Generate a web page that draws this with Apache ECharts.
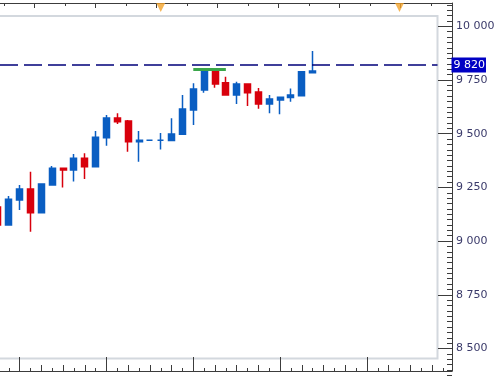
<!DOCTYPE html>
<html>
<head>
<meta charset="utf-8">
<script src="https://cdn.jsdelivr.net/npm/echarts@6/dist/echarts.min.js"></script>
<style>
html, body { margin: 0; padding: 0; background: #fff; }
#chart { width: 500px; height: 377px; }
</style>
</head>
<body>
<div id="chart"></div>
<script>
// 41 time slots across the plot, candles fill the first 30
var periods = [];
for (var i = 0; i < 41; i++) periods.push('P' + i);

var opens  = [9159, 9075, 9191, 9243, 9132, 9261, 9339, 9331, 9386, 9346,
              9481, 9573, 9559, 9463, 9469, 9469, 9468, 9497, 9610, 9703,
              9789, 9737, 9680, 9731, 9694, 9638, 9657, 9668, 9677, 9784];
var closes = [9075, 9195, 9243, 9132, 9266, 9339, 9331, 9386, 9346, 9483,
              9573, 9556, 9463, 9469, 9469, 9469, 9499, 9615, 9708, 9789,
              9731, 9680, 9731, 9691, 9638, 9662, 9670, 9680, 9789, 9792];
var lows   = [9065, 9075, 9145, 9044, 9132, 9261, 9249, 9277, 9289, 9346,
              9444, 9545, 9416, 9370, 9469, 9427, 9468, 9497, 9541, 9691,
              9714, 9677, 9638, 9629, 9616, 9595, 9590, 9649, 9677, 9781];
var highs  = [9170, 9210, 9261, 9323, 9266, 9350, 9339, 9406, 9409, 9513,
              9587, 9595, 9564, 9513, 9469, 9503, 9572, 9680, 9735, 9791,
              9789, 9765, 9742, 9731, 9713, 9680, 9670, 9711, 9792, 9885];

var lastPrice = 9820;
var resistance = 9801;
var resistanceFrom = 18, resistanceTo = 21;
var eventSlots = [15, 37];

// price scale ticks
var priceTickMin = 8250, priceTickMax = 10250, priceStep = 250;

var upColor = '#0a5ec2';
var downColor = '#d8000c';
var axisColor = '#3c3c3c';

function fmtPrice(v) {
    return Math.round(v).toString().replace(/\B(?=(\d{3})+(?!\d))/g, ' ');
}

var candles = opens.map(function (o, k) {
    return [o, closes[k], lows[k], highs[k]];
});

var chart = echarts.init(document.getElementById('chart'));

var option = {
    animation: false,
    grid: [
        // main plot
        { left: -7.5, right: 62.5, top: 16, bottom: 18.5, show: true, outerBoundsMode: 'none',
          borderColor: '#d3d8de', borderWidth: 2, backgroundColor: 'transparent' },
        // event markers strip
        { left: -7.5, right: 62.5, top: 3, height: 13, outerBoundsMode: 'none' },
        // top ruler
        { left: -26.5, right: 48, top: 3, height: 13, outerBoundsMode: 'none' },
        // bottom ruler
        { left: -67.19, right: 48, bottom: 6, height: 12, outerBoundsMode: 'none' },
        // price axis ticks + labels
        { left: 0, right: 48, top: -27.4, bottom: -25.2, outerBoundsMode: 'none' },
        // price axis line only (between the two rulers)
        { left: 0, right: 48, top: 3, bottom: 6, outerBoundsMode: 'none' }
    ],
    xAxis: [
        { gridIndex: 0, type: 'category', data: periods, show: false },
        { gridIndex: 1, type: 'category', data: periods, show: false },
        {
            gridIndex: 2, type: 'value', position: 'top', min: 0, max: 15.69, interval: 2,
            axisLine: { onZero: false, lineStyle: { color: axisColor } },
            axisTick: { inside: true, length: 5, lineStyle: { color: axisColor } },
            minorTick: { show: true, splitNumber: 2, length: 3, lineStyle: { color: axisColor } },
            axisLabel: { show: false },
            splitLine: { show: false }
        },
        {
            gridIndex: 3, type: 'value', position: 'bottom', min: -8, max: 39.83, interval: 8,
            axisLine: { onZero: false, lineStyle: { color: axisColor } },
            axisTick: { inside: true, length: 14, lineStyle: { color: axisColor } },
            minorTick: { show: true, splitNumber: 8, length: 3, lineStyle: { color: axisColor } },
            axisLabel: { show: false },
            splitLine: { show: false }
        },
        {
            gridIndex: 3, type: 'value', position: 'bottom', min: -8, max: 39.83, interval: 2,
            axisLine: { show: false, onZero: false },
            axisTick: { inside: true, length: 6, lineStyle: { color: axisColor } },
            axisLabel: { show: false },
            splitLine: { show: false }
        },
        { gridIndex: 4, type: 'value', min: 0, max: 1, show: false },
        { gridIndex: 5, type: 'value', min: 0, max: 1, show: false }
    ],
    yAxis: [
        { gridIndex: 0, type: 'value', min: 8453.4, max: 10048, show: false },
        { gridIndex: 1, type: 'value', min: 0, max: 1, show: false },
        { gridIndex: 2, type: 'value', min: 0, max: 1, show: false },
        { gridIndex: 3, type: 'value', min: 0, max: 1, show: false },
        {
            gridIndex: 4, type: 'value', position: 'right',
            min: priceTickMin, max: priceTickMax, interval: priceStep,
            axisLine: { show: false, onZero: false },
            axisTick: { inside: true, length: 14, lineStyle: { color: axisColor } },
            minorTick: { show: true, splitNumber: 10, length: 5, lineStyle: { color: axisColor } },
            axisLabel: {
                margin: 4, color: '#3a3a6a', fontSize: 11, fontFamily: 'DejaVu Sans',
                formatter: fmtPrice
            },
            splitLine: { show: false }
        },
        {
            gridIndex: 5, type: 'value', position: 'right', min: 0, max: 1,
            axisLine: { show: true, onZero: false, lineStyle: { color: axisColor } },
            axisTick: { show: false },
            axisLabel: { show: false },
            splitLine: { show: false }
        }
    ],
    series: [
        {
            type: 'candlestick',
            xAxisIndex: 0, yAxisIndex: 0,
            data: candles,
            barWidth: 6.5,
            itemStyle: {
                color: upColor, color0: downColor,
                borderColor: upColor, borderColor0: downColor,
                borderColorDoji: upColor,
                borderWidth: 1.5
            },
            markLine: {
                symbol: 'none',
                silent: true,
                animation: false,
                data: [
                    {
                        yAxis: lastPrice,
                        lineStyle: { type: [18, 6], dashOffset: 16.5, color: '#00007a', width: 1.5 },
                        label: {
                            show: true, position: 'end', distance: 14,
                            formatter: fmtPrice(lastPrice),
                            color: '#fff', backgroundColor: '#0000c4',
                            padding: [1, 1, 1, 2], lineHeight: 13,
                            fontSize: 11, fontFamily: 'DejaVu Sans'
                        }
                    },
                    [
                        { coord: [resistanceFrom, resistance],
                          lineStyle: { type: 'solid', color: '#3aa64a', width: 3 },
                          label: { show: false } },
                        { coord: [resistanceTo, resistance],
                          lineStyle: { type: 'solid', color: '#3aa64a', width: 3 },
                          label: { show: false } }
                    ]
                ]
            }
        },
        {
            type: 'scatter',
            xAxisIndex: 1, yAxisIndex: 1,
            data: eventSlots.map(function (s) { return [s, 0]; }),
            symbol: 'triangle',
            symbolSize: [9, 9],
            symbolRotate: 180,
            symbolOffset: [0, -8.5],
            itemStyle: { color: '#f2a22a' },
            silent: true
        }
    ]
};

chart.setOption(option);
</script>
</body>
</html>
